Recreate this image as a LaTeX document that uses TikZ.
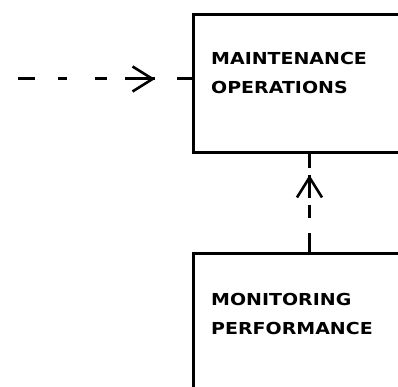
\documentclass[tikz,border=0pt]{standalone}
\usepackage{fontspec}
\usepackage{tikz}
\usetikzlibrary{arrows.meta,calc,decorations.markings,positioning}
\newfontfamily\blockfont[FakeStretch=1.15]{DejaVu Sans}
\tikzset{
  blockbox/.style={draw,line width=3pt,rectangle,anchor=north west,
    minimum width=232pt,minimum height=138pt,inner sep=0pt},
  blocktext/.style={anchor=north west,inner sep=0pt,align=left,
    font=\blockfont\bfseries\fontsize{16.5}{29}\selectfont},
  flowhead/.style={decoration={markings,
    mark=at position #1 with {\arrow[line width=2.6pt]{Straight Barb[length=20pt,width=25pt]}}},
    postaction={decorate}},
}

\begin{document}
\begin{tikzpicture}[x=1pt,y=-1pt]
    \useasboundingbox (0,0) rectangle (398,387);
    \clip (0,0) rectangle (398,387);
    \node[blockbox] (maint) at (192,13) {};
    \node[blockbox,minimum height=200pt] (monit) at (192,252) {};
    \node[blocktext] (mainttext) at ($(maint.north west)+(19,39)$) {MAINTENANCE\\OPERATIONS};
    \node[blocktext] (monittext) at ($(monit.north west)+(19,41)$) {MONITORING\\PERFORMANCE};
    \coordinate (feed) at (18,79);
    \draw[line width=3pt,dash pattern=on 17pt off 23pt on 9pt off 28pt on 12pt off 18pt on 30pt off 22pt on 20pt,
      flowhead=137pt] (feed) -- (feed -| maint.west);
    \draw[line width=3pt,dash pattern=on 19pt off 15pt on 13pt off 7pt on 23pt off 7pt on 20pt,
      flowhead=77pt] (monit.north) -- (maint.south);
  \end{tikzpicture}
\end{document}
